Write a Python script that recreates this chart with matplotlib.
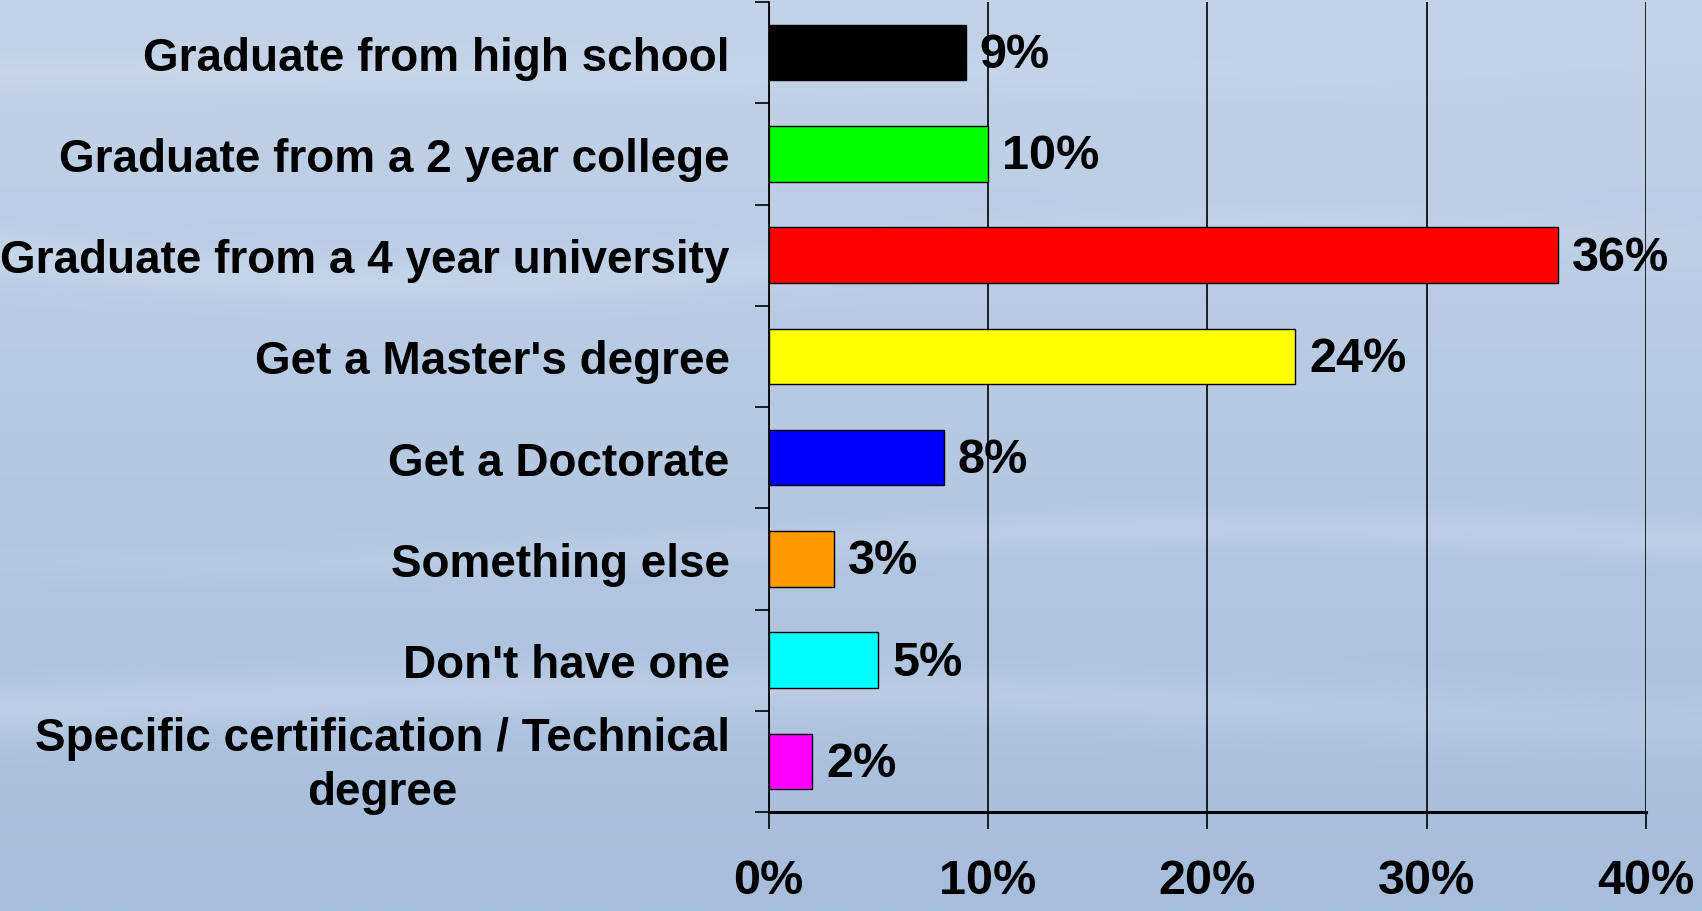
import numpy as np
import matplotlib
matplotlib.use("Agg")
import matplotlib.pyplot as plt
from matplotlib.colors import to_rgb
from matplotlib.transforms import ScaledTranslation

categories = [
    "Graduate from high school",
    "Graduate from a 2 year college",
    "Graduate from a 4 year university",
    "Get a Master's degree",
    "Get a Doctorate",
    "Something else",
    "Don't have one",
    "Specific certification / Technical\ndegree",
]
values = [9, 10, 36, 24, 8, 3, 5, 2]
bar_colors = ["#000000", "#00ff00", "#ff0000", "#ffff00",
              "#0000ff", "#ff9900", "#00ffff", "#ff00ff"]
xticks = [0, 10, 20, 30, 40]
xtick_labels = ["0%", "10%", "20%", "30%", "40%"]

plt.rcParams['font.family'] = ['Liberation Sans', 'DejaVu Sans']
plt.rcParams['font.weight'] = 'bold'

W, H = 1702, 912
fig = plt.figure(figsize=(W / 100, H / 100), dpi=100)

# sky-like background: vertical gradient with soft horizontal light streaks
yy, xx = np.mgrid[0:1:400j, 0:1:600j]
top = np.array(to_rgb("#c3d3e8"))
bot = np.array(to_rgb("#a6bedc"))
img = top[None, None, :] * (1 - yy[..., None]) + bot[None, None, :] * yy[..., None]
light = np.array(to_rgb("#dbe5f1"))
streaks = (0.35 * np.exp(-((yy - 0.28 - 0.03 * np.sin(6 * xx)) / 0.025) ** 2) * (1 - 0.6 * xx)
           + 0.30 * np.exp(-((yy - 0.60 - 0.02 * np.sin(5 * xx + 1)) / 0.02) ** 2) * (0.3 + 0.7 * xx)
           + 0.35 * np.exp(-((yy - 0.78 + 0.02 * np.sin(4 * xx)) / 0.03) ** 2) * (1 - 0.5 * xx)
           + 0.25 * np.exp(-((yy - 0.08) / 0.02) ** 2) * (0.5 + 0.5 * np.cos(3 * xx)))
streaks = np.clip(streaks, 0, 1)[..., None]
img = img * (1 - streaks) + light[None, None, :] * streaks
bg = fig.add_axes([0, 0, 1, 1], zorder=0)
bg.imshow(img, aspect='auto', extent=[0, 1, 0, 1], interpolation='bilinear')
bg.axis('off')

x0, x1 = 768.5, 1646
ax = fig.add_axes([x0 / W, 99 / H, (x1 - x0) / W, 810 / H], zorder=1)
ax.patch.set_alpha(0)

ypos = np.arange(len(categories))
ax.barh(ypos, values, height=0.55, color=bar_colors, edgecolor='black',
        linewidth=1.0, zorder=3)

for y, v in zip(ypos, values):
    ax.annotate(f"{v}%", xy=(v, y), xytext=(10, -10.5), textcoords='offset points',
                ha='left', va='baseline', fontsize=35, fontweight='bold', zorder=4,
                annotation_clip=False)

ax.set_xlim(0, 40)
ax.set_ylim(len(categories) - 0.5, -0.5)

ax.set_xticks(xticks)
ax.set_xticklabels(xtick_labels, fontsize=35, fontweight='bold')
ax.tick_params(axis='x', length=12, width=1.2, direction='out', pad=21, color='black')

ax.set_yticks(ypos)
ax.set_yticklabels(categories, fontsize=33, fontweight='bold', multialignment='center',
                   linespacing=1.3)
ax.tick_params(axis='y', which='major', length=0, pad=28)
ax.set_yticks(np.arange(-0.5, len(categories), 1), minor=True)
ax.tick_params(axis='y', which='minor', length=10, width=1.2, direction='out', color='black')

# nudge the two-line label up a little
last = ax.get_yticklabels()[-1]
last.set_transform(last.get_transform() + ScaledTranslation(0, 4.5 / 72, fig.dpi_scale_trans))

ax.xaxis.grid(True, color='black', linewidth=1.2, zorder=1)
ax.set_axisbelow(True)
for s in ['top', 'right']:
    ax.spines[s].set_visible(False)
ax.spines['left'].set_linewidth(1.3)
ax.spines['bottom'].set_linewidth(2.2)

fig.savefig("out.png", dpi=100)
